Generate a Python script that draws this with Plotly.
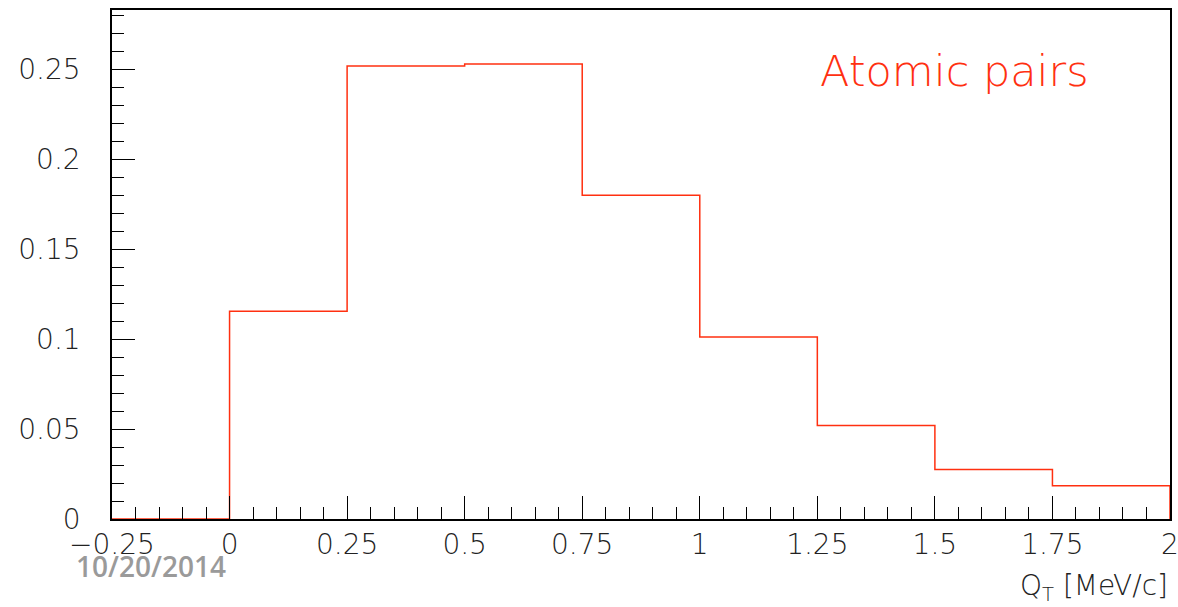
import plotly.graph_objects as go

# Histogram data (bin edges and contents)
bin_edges = [-0.25, 0.0, 0.25, 0.5, 0.75, 1.0, 1.25, 1.5, 1.75, 2.0]
bin_values = [0.0, 0.1155, 0.2519, 0.2530, 0.1800, 0.1012, 0.0520, 0.0275, 0.0185]

x_tick_vals = [-0.25, 0, 0.25, 0.5, 0.75, 1, 1.25, 1.5, 1.75, 2]
x_tick_text = ["\u22120.25", "0", "0.25", "0.5", "0.75", "1", "1.25", "1.5", "1.75", "2"]
y_tick_vals = [0, 0.05, 0.1, 0.15, 0.2, 0.25]
y_tick_text = ["0", "0.05", "0.1", "0.15", "0.2", "0.25"]

RED = "#ff3010"
FONT = "DejaVu Sans, sans-serif"

# step outline: left edges with values, then close at right edge down to 0
xs = list(bin_edges[:-1]) + [bin_edges[-1], bin_edges[-1]]
ys = list(bin_values) + [bin_values[-1], 0.0]

fig = go.Figure()
fig.add_trace(go.Scatter(x=xs, y=ys, mode="lines", line=dict(color=RED, width=1.5, shape="hv"),
                         hoverinfo="skip", showlegend=False))

tickfont = dict(family=FONT, size=28, color="#222222", weight=200)

fig.update_layout(
    width=1178, height=607,
    margin=dict(l=112, r=8, t=10, b=88, autoexpand=False),
    paper_bgcolor="white", plot_bgcolor="white",
    showlegend=False,
    xaxis=dict(range=[-0.25, 2.0], showgrid=False, zeroline=False, automargin=False,
               showline=True, linecolor="black", linewidth=1.5, mirror=True,
               ticks="inside", ticklen=23, tickwidth=1.2, tickcolor="black",
               tickvals=x_tick_vals, ticktext=x_tick_text, tickfont=tickfont,
               ticklabeloverflow="allow",
               minor=dict(ticks="inside", ticklen=12, dtick=0.05, tick0=0, tickcolor="black", tickwidth=1.2)),
    yaxis=dict(range=[0, 0.283], showgrid=False, zeroline=False, automargin=False,
               showline=True, linecolor="black", linewidth=1.5, mirror=True,
               ticks="inside", ticklen=23, tickwidth=1.2, tickcolor="black",
               tickvals=y_tick_vals, ticktext=y_tick_text, tickfont=tickfont,
               ticklabelstandoff=24, ticklabeloverflow="allow",
               minor=dict(ticks="inside", ticklen=12, dtick=0.01, tick0=0, tickcolor="black", tickwidth=1.2)),
)

fig.add_annotation(text="Atomic pairs", xref="paper", yref="paper", x=0.667, y=0.88,
                   xanchor="left", yanchor="middle", showarrow=False,
                   font=dict(family=FONT, size=43, color=RED, weight=200))

fig.add_annotation(text="Q<sub>T</sub> [MeV/c]", xref="paper", yref="paper", x=1.0, y=-0.135,
                   xanchor="right", yanchor="middle", showarrow=False,
                   font=dict(family=FONT, size=28, color="#222222", weight=200))

fig.add_annotation(text="10/20/2014", xref="paper", yref="paper", x=-0.036, y=-0.092,
                   xanchor="left", yanchor="middle", showarrow=False,
                   font=dict(family="Open Sans, sans-serif", size=28, color="#9a9a9a", weight=600))

fig.write_html("out.html")
